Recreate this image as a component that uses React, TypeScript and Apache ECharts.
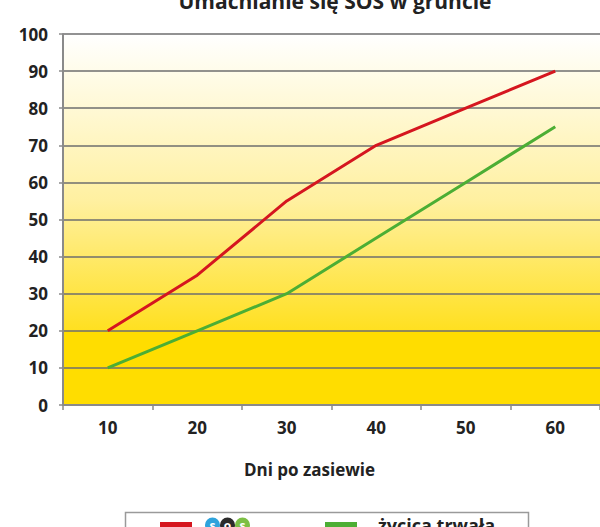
import React, { useEffect, useRef } from "react";
import * as echarts from "echarts";

const categories = ["10", "20", "30", "40", "50", "60"];
const sosValues = [20, 35, 55, 70, 80, 90];
const ryegrassValues = [10, 20, 30, 45, 60, 75];
const seriesNames = ["SOS", "życica trwała"];
const titleText = "Umacnianie się SOS w gruncie";
const xAxisName = "Dni po zasiewie";

const FONT = "'Open Sans', 'DejaVu Sans', sans-serif";

export default function App() {
  const ref = useRef<HTMLDivElement>(null);
  useEffect(() => {
    if (!ref.current) return;
    const chart = echarts.init(ref.current, undefined, { renderer: "svg" });
    const logoCircle = (bg: string) => ({
      backgroundColor: bg,
      color: "#fff",
      width: 15,
      height: 15,
      borderRadius: 8,
      align: "center",
      fontFamily: FONT,
      fontSize: 12,
      fontWeight: "bold",
      lineHeight: 15,
    });
    chart.setOption({
      animation: false,
      backgroundColor: "#ffffff",
      title: {
        text: titleText,
        left: 330,
        textAlign: "center",
        top: -15,
        textStyle: { fontFamily: FONT, fontSize: 21, fontWeight: "bold", color: "#222" },
      },
      grid: {
        left: 63,
        right: -6,
        top: 34,
        bottom: 122,
        show: true,
        borderWidth: 0,
        backgroundColor: new echarts.graphic.LinearGradient(0, 0, 0, 1, [
          { offset: 0, color: "#ffffff" },
          { offset: 0.1, color: "#fffcea" },
          { offset: 0.45, color: "#fff0a0" },
          { offset: 0.8, color: "#ffe020" },
          { offset: 0.801, color: "#ffdd00" },
          { offset: 1, color: "#ffdd00" },
        ]),
      },
      xAxis: {
        type: "category",
        data: categories,
        boundaryGap: true,
        name: xAxisName,
        nameLocation: "middle",
        nameGap: 56,
        nameTextStyle: { fontFamily: FONT, fontSize: 17, fontWeight: "bold", color: "#222", padding: [0, 44, 0, 0] },
        axisLine: { lineStyle: { color: "#8a8a8a", width: 2 } },
        axisTick: { show: true, length: 5, lineStyle: { color: "#8a8a8a", width: 1.5 } },
        axisLabel: { margin: 14, fontFamily: FONT, fontSize: 17, fontWeight: "bold", color: "#222" },
        splitLine: { show: false },
      },
      yAxis: {
        type: "value",
        min: 0,
        max: 100,
        interval: 10,
        axisLine: { show: true, lineStyle: { color: "#8a8a8a", width: 2 } },
        axisTick: { show: true, length: 4, lineStyle: { color: "#8a8a8a", width: 1.5 } },
        axisLabel: { margin: 15, fontFamily: FONT, fontSize: 17, fontWeight: "bold", color: "#222" },
        splitLine: { show: true, lineStyle: { color: "#6e6e6e", width: 1.5 } },
      },
      legend: {
        left: 160,
        top: 516,
        padding: 0,
        itemGap: 75,
        itemWidth: 32,
        itemHeight: 6,
        icon: "rect",
        data: seriesNames,
        formatter: (name: string) =>
          name === "SOS" ? "{sp1| }{b|s}{k|o}{g|s}" : "{sp2| }{t|" + name + "}",
        textStyle: {
          rich: {
            sp1: { width: 8 },
            sp2: { width: 16 },
            b: logoCircle("#2ea3dc"),
            k: logoCircle("#2b2b2b"),
            g: logoCircle("#7cbf45"),
            t: { fontFamily: FONT, fontSize: 18, fontWeight: "bold", color: "#222", lineHeight: 15 },
          },
        },
      },
      graphic: [
        {
          type: "rect",
          left: 123,
          top: 510,
          shape: { width: 403, height: 40 },
          style: { fill: "none", stroke: "#9a9a9a", lineWidth: 1.5 },
          z: 1,
        },
      ],
      series: [
        {
          name: seriesNames[0],
          type: "line",
          data: sosValues,
          showSymbol: false,
          symbol: "none",
          lineStyle: { color: "#d5161f", width: 3 },
          itemStyle: { color: "#d5161f" },
          z: 3,
        },
        {
          name: seriesNames[1],
          type: "line",
          data: ryegrassValues,
          showSymbol: false,
          symbol: "none",
          lineStyle: { color: "#4cae34", width: 3 },
          itemStyle: { color: "#4cae34" },
          z: 3,
        },
      ],
    });
    return () => chart.dispose();
  }, []);
  return <div ref={ref} style={{ width: 600, height: 527, position: "absolute", left: 0, top: 0 }} />;
}
